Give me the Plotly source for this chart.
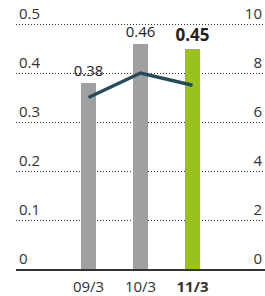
import plotly.graph_objects as go

categories = ["09/3", "10/3", "11/3"]
bar_values = [0.38, 0.46, 0.45]
bar_labels = ["0.38", "0.46", "<b>0.45</b>"]
line_values = [7.0, 8.0, 7.5]
left_ticks = [0, 0.1, 0.2, 0.3, 0.4, 0.5]
right_ticks = [0, 2, 4, 6, 8, 10]
tick_text_x = ["09/3", "10/3", "<b>11/3</b>"]

FONT = "Open Sans"
TOP = 0.549  # leaves room above the 0.5 line for its label
fig = go.Figure()
fig.add_trace(go.Bar(
    x=categories, y=bar_values, width=0.29,
    marker=dict(color=["#a0a0a0", "#a0a0a0", "#99c21a"], line=dict(width=0)),
    text=bar_labels, textposition="outside", cliponaxis=False, constraintext="none",
    textfont=dict(family=FONT, size=[15, 15, 17], color="#222"),
    showlegend=False, hoverinfo="skip",
))
fig.add_trace(go.Scatter(
    x=categories, y=line_values, yaxis="y2", mode="lines",
    line=dict(color="#264b5a", width=3.5), showlegend=False, hoverinfo="skip",
))
fig.update_layout(
    width=265, height=296,
    margin=dict(l=16, r=0, t=0, b=27),
    plot_bgcolor="white", paper_bgcolor="white",
    font=dict(family=FONT, size=13, color="#333"),
    bargap=0,
    xaxis=dict(
        type="category", range=[-1.394, 3.394],
        tickvals=categories, ticktext=tick_text_x,
        showgrid=False, showline=True, linecolor="#333", linewidth=2,
        ticks="", tickfont=dict(size=15, color="#333"), ticklabelstandoff=3,
    ),
    yaxis=dict(
        range=[0, TOP], tickvals=left_ticks, ticktext=["0", "0.1", "0.2", "0.3", "0.4", "0.5"],
        showgrid=True, gridcolor="#333", griddash="1px,2px", gridwidth=1,
        zeroline=False, ticklabelposition="inside top", ticks="",
        tickfont=dict(size=15, color="#333"),
    ),
    yaxis2=dict(
        range=[0, TOP * 20], tickvals=right_ticks, overlaying="y", side="right",
        showgrid=False, zeroline=False, ticklabelposition="inside top", ticks="",
        tickfont=dict(size=15, color="#333"),
    ),
)
fig.write_html("out.html", config={"displayModeBar": False},
               post_script="document.body.style.margin='0';")
